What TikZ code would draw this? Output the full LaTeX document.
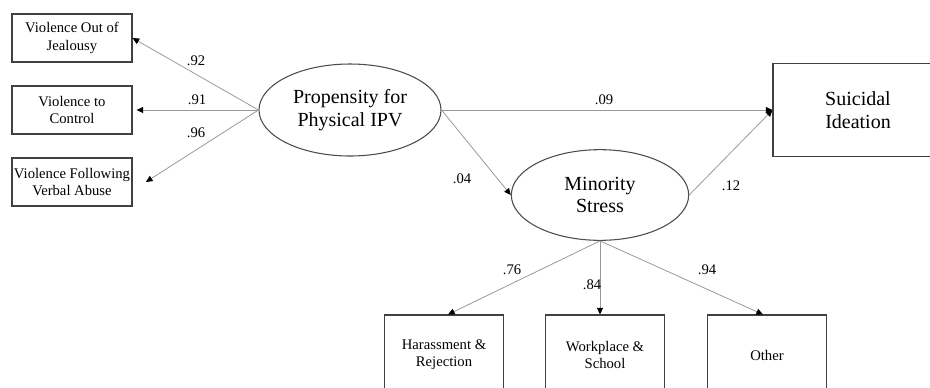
\documentclass[tikz,border=0pt]{standalone}
\usepackage{fontspec}
\setmainfont{Liberation Serif}
\usetikzlibrary{arrows.meta,positioning,shapes.geometric}

\begin{document}
\begin{tikzpicture}[x=0.75pt,y=-0.75pt,
    every node/.style={font=\fontsize{11}{13}\selectfont},
    indic/.style ={draw=black!75,line width=0.8pt,align=center,inner xsep=0.5pt,
                   minimum width=90pt,minimum height=36pt},
    outbox/.style={draw=black!75,line width=0.8pt,align=center,
                   minimum width=89pt,minimum height=60pt},
    latent/.style={ellipse,draw=black!70,line width=0.8pt,align=center,
                   font=\fontsize{15}{17}\selectfont},
    load/.style  ={draw=black!40,line width=0.6pt,
                   -{Triangle[length=5pt,width=4.5pt,color=black]}},
    coef/.style  ={inner sep=1pt},
  ]
  % page frame (the outcome boxes run past its edges)
  \clip (0,0) rectangle (930,387);

  % indicators of propensity (left column)
  \node[indic] (vjeal) at (72,38)  {Violence Out of\\Jealousy};
  \node[indic] (vctrl) at (72,110) {Violence to\\Control};
  \node[indic] (vverb) at (72,182) {Violence Following\\Verbal Abuse};

  % latent variables
  \node[latent,minimum width=136.5pt,minimum height=69pt] (ipv) at (350,110)
       {Propensity for\\Physical IPV};
  \node[latent,minimum width=133pt,minimum height=68pt] (ms) at (600,195)
       {Minority\\Stress};

  % outcome
  \node[outbox,minimum width=127.5pt,minimum height=70pt,
        font=\fontsize{15}{17}\selectfont] (si) at (858,110)
       {Suicidal\\Ideation};

  % indicators of minority stress (bottom row)
  \node[outbox] (harass) at (444,355) {Harassment \&\\Rejection};
  \node[outbox] (work)   at (605,355) {Workplace \&\\School};
  \node[outbox] (other)  at (767,355) {Other};

  % loadings, left
  \draw[load] (ipv.west) -- (vjeal.east);
  \draw[load] (ipv.west) -- ([xshift=3pt]vctrl.east);
  \draw[load] (ipv.west) -- ([xshift=10pt]vverb.east);
  \node[coef] (l92) at (196,61)  {.92};
  \node[coef] (l91) at (197,100) {.91};
  \node[coef] (l96) at (196,133) {.96};

  % structural paths
  \draw[load] (ipv.east) -- (si.west);
  \draw[load] (ipv.east) -- (ms.west);
  \draw[load] (ms.east)  -- (si.west);
  \node[coef] (l09) at (604,100) {.09};
  \node[coef] (l04) at (462,179) {.04};
  \node[coef] (l12) at (731,186) {.12};

  % loadings, bottom
  \draw[load] (ms.south) -- ([xshift=3pt]harass.north);
  \draw[load] (ms.south) -- (ms.south |- work.north);
  \draw[load] (ms.south) -- ([xshift=-3pt]other.north);
  \node[coef] (l76) at (512,270) {.76};
  \node[coef] (l84) at (592,285) {.84};
  \node[coef] (l94) at (707,270) {.94};
\end{tikzpicture}
\end{document}
